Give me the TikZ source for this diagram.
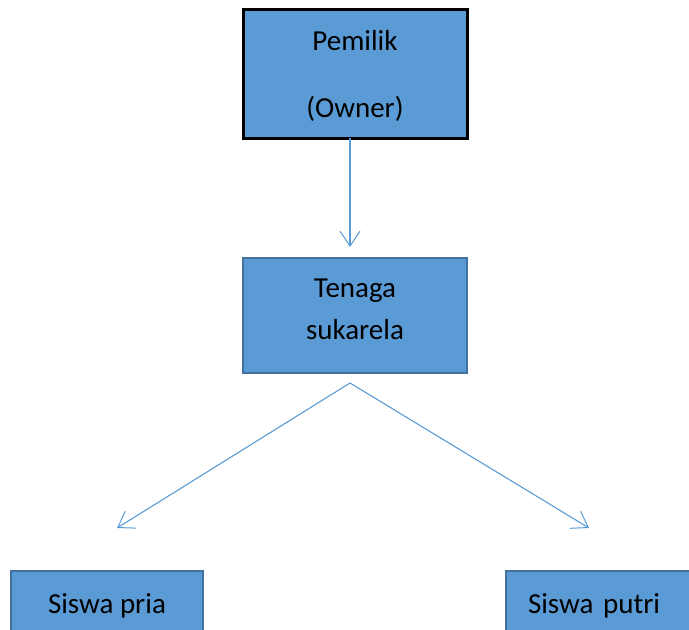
\documentclass[tikz,border=0pt]{standalone}
\usepackage{fontspec}
\setmainfont{Carlito}
\usepackage{tikz}
\usetikzlibrary{arrows.meta,positioning}
\definecolor{boxblue}{HTML}{5B9BD5}
\definecolor{edgeblue}{HTML}{41719C}

\begin{document}
\begin{tikzpicture}[x=1pt,y=1pt]
  \tikzset{
    unit/.style={draw=edgeblue, fill=boxblue, line width=1.6pt, minimum width=224pt, align=center, inner sep=0pt, font=\fontsize{29}{42}\selectfont},
    top/.style={unit, draw=black, line width=3pt},
    leaf/.style={unit, minimum width=192pt, minimum height=70pt},
    conn/.style={-{Straight Barb[length=15pt, width=20pt, line width=1pt]}, boxblue, line width=1.1pt}
  }

  % page frame
  \useasboundingbox (0,0) rectangle (689,-630);
  \clip (0,0) rectangle (689,-630);

  % boxes
  \node[top, minimum height=129pt, text depth=0pt] (owner) at (355,-73.5) {Pemilik\\[25pt](Owner)};
  \node[unit, minimum height=115pt, text depth=13pt] (tenaga) at (355,-315.5) {Tenaga\\sukarela};
  \node[leaf] (pria) at (107,-606) {Siswa pria};
  \node[leaf, text width=150pt, inner xsep=22pt, align=left] (putri) at (603,-606) {Siswa putri};

  % connectors
  \coordinate (down) at (350,-138);
  \coordinate (downend) at (350,-247);
  \coordinate (fork) at (350,-383);
  \coordinate (topria) at (117,-528);
  \coordinate (toputri) at (589,-528);

  \draw[conn] (down) -- (downend);
  \draw[conn] (fork) -- (topria);
  \draw[conn] (fork) -- (toputri);

\end{tikzpicture}
\end{document}
